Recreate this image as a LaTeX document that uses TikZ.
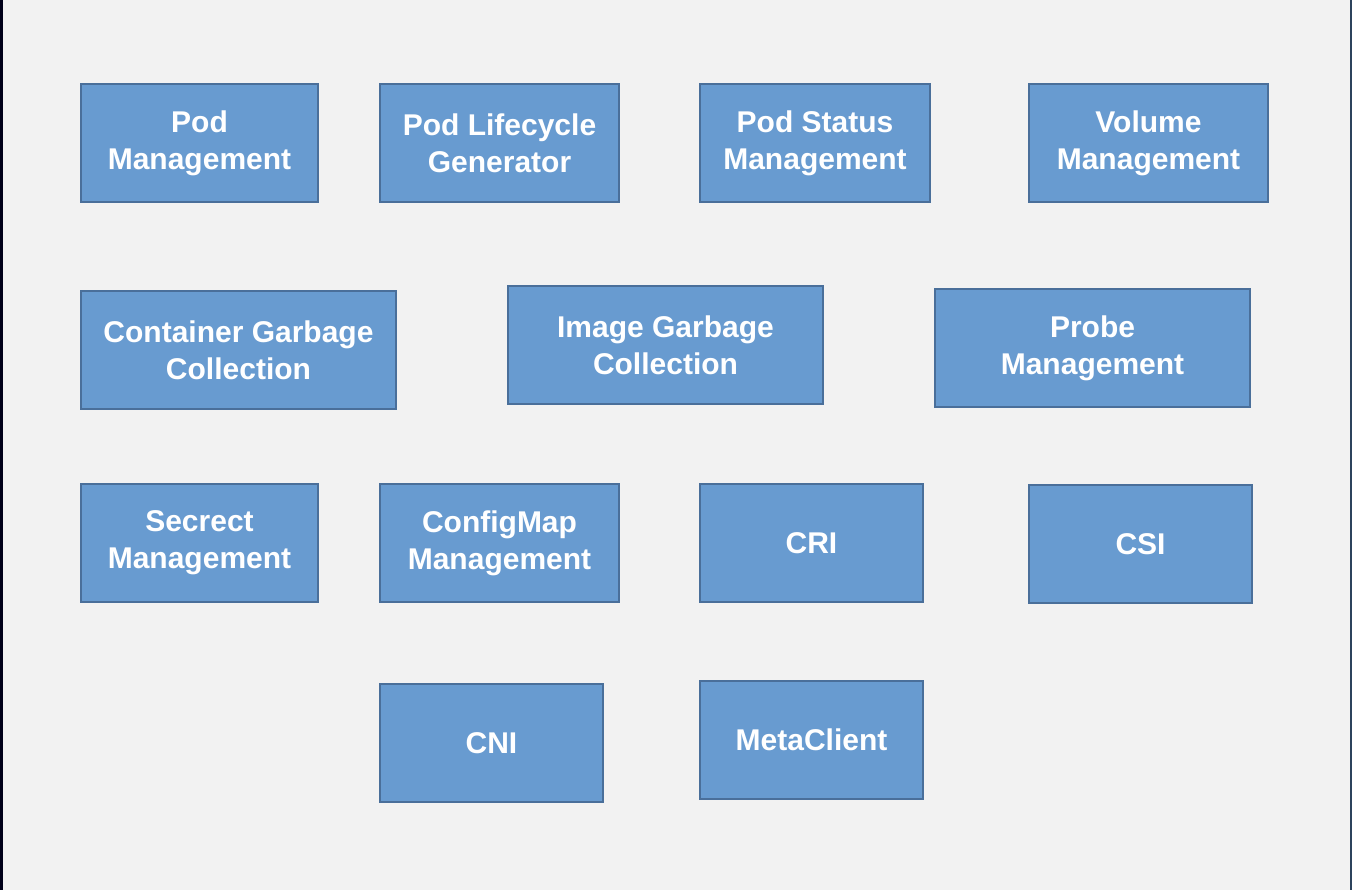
\documentclass[tikz,border=0pt]{standalone}
\usepackage{fontspec}
\setmainfont{Liberation Sans}
\usetikzlibrary{shapes}
\definecolor{boxfill}{RGB}{104,155,208}
\definecolor{boxline}{RGB}{74,111,154}
\definecolor{pagebg}{RGB}{242,242,242}

\begin{document}
\begin{tikzpicture}[x=1pt,y=-1pt]
					\tikzstyle{box}=[rectangle,draw=boxline,fill=boxfill,line width=2pt,inner sep=0pt,
					  minimum height=118pt,align=center,text=white,font=\fontsize{30}{37}\selectfont\bfseries]
					\tikzstyle{small}=[box,minimum width=237pt]
					\tikzstyle{wide}=[box,minimum width=315pt]
					\tikzstyle{narrow}=[box,minimum width=223pt]

					% page
					\fill[pagebg] (0,0) rectangle (1352,890);
					\fill[black!90!blue] (0,0) rectangle (3,890);
					\fill[boxline!60!black] (1350,0) rectangle (1352,890);
					\useasboundingbox (0,0) rectangle (1352,890);

					% row 1
					\node[small] (podmgmt) at (199.5,143) {Pod\\Management};
					\node[box,minimum width=239pt] (lifecycle) at (499.5,143) {Pod Lifecycle\\Generator};
					\node[box,minimum width=230pt] (podstatus) at (815,143) {Pod Status\\Management};
					\node[box,minimum width=239pt] (volume) at (1148.5,143) {Volume\\Management};

					% row 2
					\node[wide] (containergc) at (238.5,350) {Container Garbage\\Collection};
					\node[wide] (imagegc) at (665.5,345) {Image Garbage\\Collection};
					\node[wide] (probe) at (1092.5,348) {Probe\\Management};

					% row 3
					\node[small] (secret) at (199.5,543) {Secrect\\Management};
					\node[box,minimum width=239pt] (configmap) at (499.5,543) {ConfigMap\\Management};
					\node[narrow] (cri) at (811.5,543) {CRI};
					\node[narrow] (csi) at (1140.5,544) {CSI};

					% row 4
					\node[narrow] (cni) at (491.5,743) {CNI};
					\node[narrow] (metaclient) at (811.5,740) {MetaClient};
\end{tikzpicture}
\end{document}
